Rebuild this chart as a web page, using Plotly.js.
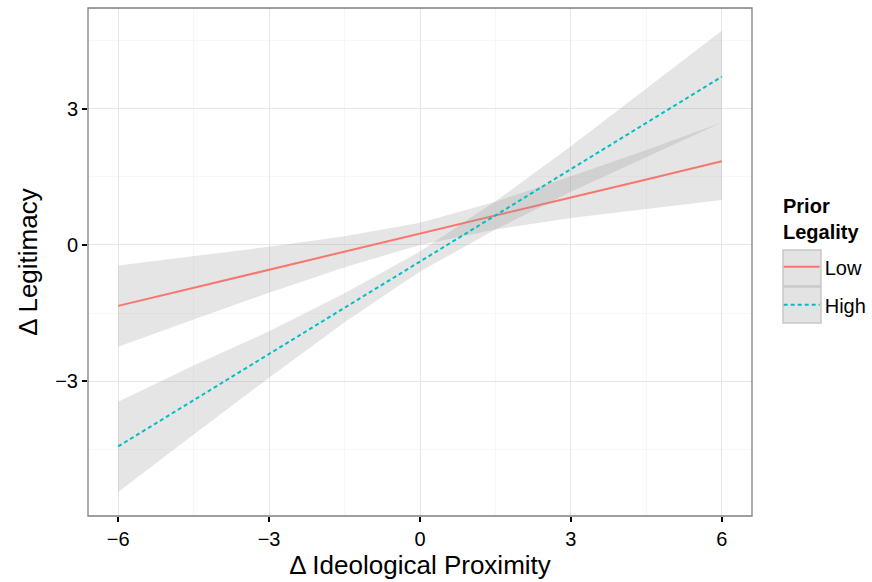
<!DOCTYPE html>
<html><head><meta charset="utf-8">
<script src="https://cdn.plot.ly/plotly-3.0.1.min.js"></script>
<style>html,body{margin:0;padding:0;background:#fff}#chart{width:872px;height:582px}</style>
</head><body><div id="chart"></div>
<script>
// Delta ideological proximity grid (x)
const xGrid = [-6, -4.5, -3, -1.5, 0, 1.5, 3, 4.5, 6];
// Prior legality: Low
const lowFit   = [-1.34, -0.94, -0.545, -0.15, 0.25, 0.65, 1.045, 1.44, 1.84];
const lowUpper = [-0.45, -0.24, -0.04, 0.19, 0.49, 0.95, 1.51, 2.09, 2.69];
const lowLower = [-2.24, -1.64, -1.05, -0.49, 0.00, 0.34, 0.59, 0.79, 0.99];
// Prior legality: High
const highFit   = [-4.43, -3.41, -2.40, -1.38, -0.365, 0.65, 1.67, 2.68, 3.70];
const highUpper = [-3.45, -2.65, -1.90, -1.06, -0.145, 0.96, 2.17, 3.43, 4.71];
const highLower = [-5.43, -4.17, -2.92, -1.70, -0.585, 0.34, 1.17, 1.93, 2.69];

const groupNames = ['Low', 'High'];
const legendTitle = '<b>Prior<br>Legality</b>';
const lineColors = ['#F8766D', '#00BFC4'];
const FONT = 'Liberation Sans, Arial, Helvetica, sans-serif';

function band(upper, lower) {
  return {
    x: xGrid.concat(xGrid.slice().reverse()),
    y: upper.concat(lower.slice().reverse()),
    type: 'scatter', mode: 'lines', fill: 'toself',
    fillcolor: 'rgba(153,153,153,0.25)', line: {width: 0},
    showlegend: false, hoverinfo: 'skip'
  };
}

const traces = [
  band(lowUpper, lowLower),
  {x: xGrid, y: lowFit, type: 'scatter', mode: 'lines', name: groupNames[0],
   legendgroup: 'a', line: {color: lineColors[0], width: 2}},
  band(highUpper, highLower),
  {x: xGrid, y: highFit, type: 'scatter', mode: 'lines', name: groupNames[1],
   legendgroup: 'b', line: {color: lineColors[1], width: 2, dash: '4px,3px'}}
];

const axisCommon = {
  showline: false, zeroline: false, ticks: 'outside', ticklen: 5, tickwidth: 2,
  tickcolor: '#000', gridcolor: '#e6e6e6', gridwidth: 1,
  tickfont: {family: FONT, size: 20, color: '#000'},
  minor: {dtick: 1.5, showgrid: true, gridcolor: '#f7f7f7', gridwidth: 1, ticks: ''}
};

const layout = {
  width: 872, height: 582,
  margin: {l: 88, r: 120, t: 8, b: 66},
  paper_bgcolor: '#fff', plot_bgcolor: '#fff',
  xaxis: Object.assign({}, axisCommon, {
    range: [-6.6, 6.6], tick0: 0, dtick: 3,
    title: {text: 'Δ Ideological Proximity', font: {family: FONT, size: 26, color: '#000'}, standoff: 4}
  }),
  yaxis: Object.assign({}, axisCommon, {
    range: [-5.96, 5.21], tick0: 0, dtick: 3,
    title: {text: 'Δ Legitimacy', font: {family: FONT, size: 26, color: '#000'}, standoff: 10}
  }),
  legend: {
    xref: 'container', yref: 'container',
    x: 0.893, y: 0.575, xanchor: 'left', yanchor: 'top',
    font: {family: FONT, size: 20, color: '#000'},
    tracegroupgap: 9, itemwidth: 36,
    bgcolor: 'rgba(0,0,0,0)'
  },
  annotations: [
    {text: legendTitle, xref: 'paper', yref: 'paper', x: 1.0437, y: 0.636,
     xanchor: 'left', yanchor: 'top', align: 'left', showarrow: false,
     font: {family: FONT, size: 20, color: '#000'}}
  ],
  shapes: [
    {type: 'rect', xref: 'paper', yref: 'paper', x0: 0, x1: 1, y0: 0, y1: 1,
     line: {color: '#7f7f7f', width: 1.3}, fillcolor: 'rgba(0,0,0,0)'},
    {type: 'rect', xref: 'paper', yref: 'paper', x0: 1.0467, x1: 1.1039, y0: 0.4528, y1: 0.5236,
     line: {color: '#c8c8c8', width: 1.5}, fillcolor: '#e3e3e3'},
    {type: 'rect', xref: 'paper', yref: 'paper', x0: 1.0467, x1: 1.1039, y0: 0.3799, y1: 0.4508,
     line: {color: '#c8c8c8', width: 1.5}, fillcolor: '#e3e3e3'}
  ]
};

Plotly.newPlot('chart', traces, layout, {displayModeBar: false, staticPlot: true});
</script></body></html>
